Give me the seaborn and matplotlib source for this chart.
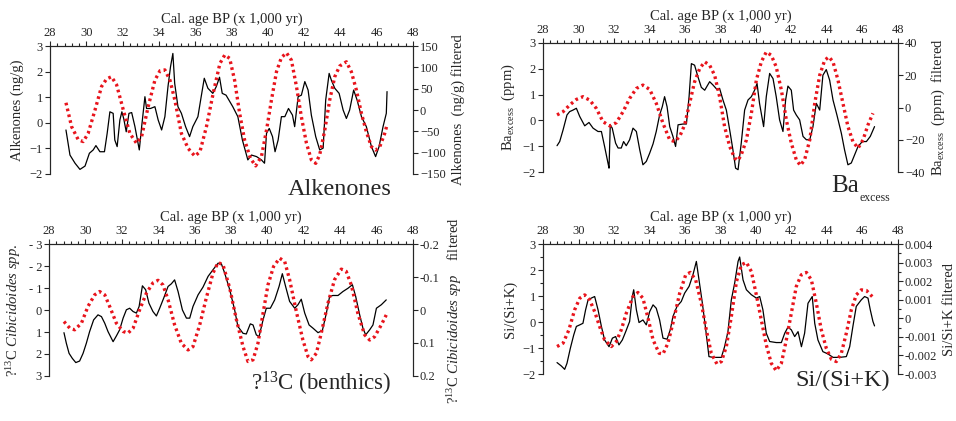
import matplotlib
matplotlib.use('Agg')
import matplotlib.pyplot as plt
import matplotlib.ticker as mticker
import seaborn as sns
import pandas as pd

# --- Alkenones ---
alk_age = [28.88, 29.1, 29.38, 29.65, 29.93, 30.17, 30.38, 30.53, 30.75, 31.0, 31.15, 31.3, 31.48, 31.57,
           31.7, 31.85, 31.96, 32.06, 32.2, 32.35, 32.5, 32.68, 32.92, 33.05, 33.23, 33.32, 33.54, 33.78,
           33.96, 34.15, 34.33, 34.5, 34.64, 34.77, 34.87, 35.05, 35.24, 35.47, 35.69, 35.87, 36.15, 36.33,
           36.5, 36.7, 36.97, 37.16, 37.34, 37.49, 37.7, 38.07, 38.35, 38.6, 38.9, 39.1, 39.38, 39.65,
           39.82, 39.93, 40.08, 40.26, 40.4, 40.57, 40.75, 40.94, 41.14, 41.36, 41.48, 41.67, 41.85, 42.04,
           42.22, 42.4, 42.64, 42.86, 43.05, 43.19, 43.38, 43.5, 43.69, 43.93, 44.15, 44.33, 44.51, 44.73,
           44.92, 45.16, 45.43, 45.71, 45.94, 46.13, 46.35, 46.53, 46.57]
alk_val = [-0.28, -1.26, -1.58, -1.82, -1.69, -1.19, -1.06, -0.89, -1.13, -1.13, -0.41, 0.43, 0.37, -0.67,
           -0.93, 0.11, 0.43, 0.17, -0.35, 0.37, 0.4, -0.15, -1.06, -0.15, 1.02, 0.56, 0.56, 0.63,
           0.11, -0.28, 0.24, 1.41, 2.19, 2.71, 1.54, 0.63, 0.37, -0.15, -0.54, -0.15, 0.24, 1.02,
           1.74, 1.35, 1.15, 1.41, 1.78, 1.15, 1.08, 0.63, 0.24, -0.67, -1.45, -1.26, -1.32, -1.45,
           -1.58, -0.41, -0.22, -0.54, -1.13, -0.67, 0.24, 0.24, 0.56, 0.3, -0.15, 1.02, 1.08, 1.61,
           1.28, 0.3, -0.54, -1.06, -0.99, 0.89, 1.93, 1.67, 1.35, 1.15, 0.5, 0.17, 0.5, 1.28,
           0.89, 0.24, -0.15, -0.93, -1.32, -0.93, -0.15, 0.37, 1.22]
alk_filt_age = [28.88, 29.19, 29.56, 29.83, 30.1, 30.48, 30.84, 31.12, 31.39, 31.67, 32.04, 32.4, 32.77,
                33.05, 33.41, 33.78, 34.06, 34.33, 34.61, 34.88, 35.24, 35.61, 35.98, 36.26, 36.62, 36.99,
                37.36, 37.63, 37.9, 38.17, 38.45, 38.72, 39.04, 39.33, 39.65, 39.93, 40.2, 40.48, 40.75,
                41.03, 41.3, 41.58, 41.85, 42.13, 42.4, 42.64, 42.86, 43.14, 43.41, 43.69, 43.96, 44.33,
                44.6, 44.88, 45.16, 45.43, 45.71, 45.94, 46.17, 46.44, 46.57]
alk_filt_val = [17, -39, -70, -74, -55, 0, 55, 73, 78, 59, 0, -55, -78,
                -62, 8, 70, 92, 94, 70, 23, -55, -90, -108, -98, -39, 39,
                109, 129, 121, 70, -8, -70, -113, -131, -109, -47, 23, 90, 123,
                134, 117, 55, -16, -78, -117, -125, -105, -47, 23, 78, 103, 113,
                90, 47, -8, -51, -86, -94, -86, -55, -35]

# --- Ba excess ---
ba_age = [28.79, 28.94, 29.13, 29.35, 29.5, 29.69, 29.88, 30.07, 30.35, 30.59, 30.82, 31.1, 31.29, 31.47,
          31.66, 31.72, 31.79, 31.9, 32.09, 32.23, 32.41, 32.54, 32.69, 32.88, 33.07, 33.26, 33.45, 33.63,
          33.82, 34.01, 34.2, 34.38, 34.57, 34.72, 34.85, 34.99, 35.14, 35.32, 35.47, 35.61, 35.89, 36.08,
          36.23, 36.36, 36.54, 36.73, 36.92, 37.11, 37.39, 37.58, 37.8, 37.95, 38.14, 38.33, 38.55, 38.7,
          38.85, 38.99, 39.17, 39.36, 39.55, 39.74, 39.92, 40.06, 40.2, 40.43, 40.58, 40.77, 40.96, 41.14,
          41.33, 41.52, 41.67, 41.8, 41.99, 42.12, 42.27, 42.46, 42.65, 42.84, 43.03, 43.21, 43.4, 43.59,
          43.77, 43.96, 44.15, 44.34, 44.56, 44.81, 44.99, 45.18, 45.37, 45.56, 45.75, 45.99, 46.22, 46.44,
          46.68]
ba_val = [-0.98, -0.82, -0.37, 0.21, 0.34, 0.4, 0.47, 0.15, -0.21, -0.08, -0.3, -0.43, -0.43, -1.01,
          -1.65, -1.85, -0.17, -0.3, -0.88, -1.07, -1.07, -0.82, -0.98, -0.75, -0.3, -0.43, -1.14, -1.72,
          -1.59, -1.27, -0.91, -0.43, 0.21, 0.53, 0.92, 0.53, -0.24, -0.62, -1.01, -0.17, -0.14, -0.14,
          0.92, 2.2, 2.14, 1.69, 1.28, 1.17, 1.5, 1.37, 1.2, 1.24, 0.79, 0.4, -0.5, -1.14,
          -1.85, -1.91, -0.88, 0.4, 0.79, 0.92, 1.17, 1.43, 0.66, -0.24, 0.92, 1.82, 1.62, 0.92,
          0.02, -0.43, 0.79, 1.33, 1.17, 0.4, 0.21, 0.02, -0.62, -0.75, -0.75, -0.24, 0.66, 0.4,
          1.75, 1.97, 1.56, 0.79, 0.21, -0.5, -1.14, -1.72, -1.65, -1.33, -1.01, -0.82, -0.82, -0.62,
          -0.24]
ba_filt_age = [28.79, 29.13, 29.5, 29.88, 30.25, 30.63, 31.0, 31.38, 31.76, 32.13, 32.51, 32.88, 33.26,
               33.63, 34.01, 34.38, 34.76, 35.14, 35.42, 35.7, 35.98, 36.26, 36.54, 36.83, 37.11, 37.39,
               37.67, 37.95, 38.23, 38.52, 38.8, 38.99, 39.17, 39.46, 39.74, 40.02, 40.3, 40.58, 40.86,
               41.14, 41.43, 41.71, 41.99, 42.27, 42.5, 42.74, 43.03, 43.31, 43.59, 43.87, 44.11, 44.34,
               44.62, 44.9, 45.18, 45.46, 45.75, 46.03, 46.31, 46.59]
ba_filt_val = [-4.6, -2.6, 1.5, 5, 6.7, 4.6, -0.5, -8.8, -11.4, -9.4, -2.6, 5.6, 11.8,
               13.9, 11.2, 2.6, -9.8, -20.1, -21.1, -18, -10.8, 2.6, 15.9, 24.2, 28.3, 26.2,
               20, 6.7, -11.8, -24.2, -31.4, -32.8, -29.3, -20.1, -3.6, 17, 28.3, 34.4, 32.4,
               25.2, 10.8, -7.7, -22.1, -32.4, -35.9, -32.4, -20.1, 2.6, 20, 29.3, 31.4, 28.3,
               17, 2.6, -11.8, -21.1, -25.2, -20.1, -10.8, -3.6]

# --- d13C benthics ---
c13_age = [28.82, 28.95, 29.1, 29.28, 29.47, 29.68, 29.87, 30.05, 30.23, 30.45, 30.69, 30.88, 31.06, 31.24,
           31.52, 31.7, 31.88, 32.07, 32.25, 32.43, 32.62, 32.8, 32.95, 33.13, 33.31, 33.49, 33.71, 33.9,
           34.08, 34.3, 34.54, 34.72, 34.9, 35.09, 35.33, 35.55, 35.73, 35.91, 36.19, 36.46, 36.74, 37.01,
           37.29, 37.47, 37.65, 37.93, 38.2, 38.38, 38.66, 38.84, 39.06, 39.21, 39.39, 39.54, 39.76, 39.94,
           40.16, 40.4, 40.64, 40.82, 41.0, 41.22, 41.5, 41.68, 41.86, 42.05, 42.29, 42.51, 42.78, 43.02,
           43.24, 43.42, 43.6, 43.88, 44.15, 44.43, 44.67, 44.85, 45.07, 45.25, 45.4, 45.62, 45.8, 45.99,
           46.26, 46.53]
c13_val = [1.03, 1.51, 1.97, 2.2, 2.39, 2.32, 1.97, 1.51, 0.98, 0.45, 0.22, 0.3, 0.6, 0.98,
           1.44, 1.18, 0.9, 0.37, -0.01, -0.08, 0.07, 0.14, -0.16, -1.1, -0.92, -0.31, 0.07, 0.27,
           -0.08, -0.54, -1.07, -1.19, -1.37, -0.84, 0.0, 0.37, 0.37, -0.16, -0.69, -1.04, -1.53, -1.83,
           -2.13, -2.1, -1.68, -0.92, 0.0, 0.75, 1.06, 1.09, 0.63, 0.68, 1.13, 1.21, 0.45, -0.08,
           -0.08, -0.46, -1.07, -1.65, -1.07, -0.39, -0.08, -0.24, -0.49, 0.14, 0.68, 0.83, 1.03, 0.93,
           0.14, -0.62, -0.66, -0.66, -0.84, -0.99, -1.15, -0.62, 0.22, 0.83, 1.13, 0.9, 0.68, -0.08,
           -0.24, -0.46]
c13_filt_age = [28.82, 29.14, 29.41, 29.78, 30.14, 30.51, 30.78, 31.06, 31.33, 31.7, 32.07, 32.34, 32.62,
                32.98, 33.35, 33.71, 33.99, 34.26, 34.54, 34.9, 35.27, 35.64, 35.91, 36.28, 36.64, 37.01,
                37.29, 37.56, 37.93, 38.3, 38.66, 38.93, 39.21, 39.48, 39.76, 40.03, 40.34, 40.67, 40.95,
                41.22, 41.59, 41.95, 42.23, 42.41, 42.69, 42.96, 43.33, 43.69, 44.06, 44.33, 44.61, 44.97,
                45.34, 45.62, 45.89, 46.26, 46.53]
c13_filt_val = [0.035, 0.055, 0.06, 0.04, -0.011, -0.046, -0.056, -0.046, -0.011, 0.04, 0.065, 0.07, 0.055,
                -0.001, -0.051, -0.082, -0.09, -0.076, -0.031, 0.045, 0.101, 0.121, 0.111, 0.045, -0.036, -0.112,
                -0.144, -0.137, -0.066, 0.03, 0.111, 0.156, 0.151, 0.101, 0.01, -0.076, -0.132, -0.157, -0.147,
                -0.092, 0.005, 0.091, 0.141, 0.151, 0.131, 0.07, -0.021, -0.092, -0.124, -0.117, -0.076, 0.01,
                0.075, 0.091, 0.081, 0.045, 0.015]

# --- Si/(Si+K) ---
si_age = [28.79, 29.03, 29.22, 29.35, 29.54, 29.73, 29.88, 30.07, 30.25, 30.4, 30.54, 30.72, 30.91, 31.1,
          31.29, 31.47, 31.72, 31.91, 32.09, 32.28, 32.47, 32.66, 32.88, 33.03, 33.11, 33.26, 33.41, 33.63,
          33.82, 34.01, 34.2, 34.38, 34.57, 34.76, 34.99, 35.17, 35.32, 35.55, 35.79, 35.98, 36.23, 36.45,
          36.64, 36.79, 36.98, 37.17, 37.35, 37.58, 37.86, 38.05, 38.23, 38.42, 38.61, 38.8, 38.99, 39.08,
          39.27, 39.46, 39.74, 40.02, 40.21, 40.39, 40.58, 40.77, 41.14, 41.43, 41.62, 41.8, 41.99, 42.18,
          42.37, 42.56, 42.74, 42.93, 43.17, 43.31, 43.49, 43.77, 44.06, 44.34, 44.71, 45.09, 45.28, 45.46,
          45.65, 45.93, 46.12, 46.31, 46.44, 46.59, 46.68]
si_val = [-1.56, -1.69, -1.82, -1.59, -1.01, -0.5, -0.17, -0.11, -0.05, 0.47, 0.85, 0.92, 0.98, 0.47,
          -0.17, -0.69, -0.95, -0.62, -0.56, -0.88, -0.69, -0.37, 0.02, 0.98, 1.24, 0.47, -0.02, 0.08,
          -0.11, 0.4, 0.66, 0.53, 0.08, -0.62, -0.66, -0.3, 0.21, 0.6, 0.79, 1.11, 1.37, 1.82,
          2.33, 1.62, 0.72, -0.3, -1.33, -1.36, -1.36, -1.36, -0.95, -0.37, 0.85, 1.5, 2.33, 2.5,
          1.62, 1.24, 1.05, 0.92, 0.98, 0.47, -0.43, -0.75, -0.79, -0.79, -0.43, -0.2, -0.3, -0.56,
          -0.37, -0.95, -0.43, 0.72, 0.98, -0.05, -0.69, -1.14, -1.23, -1.36, -1.36, -1.33, -0.95, -0.17,
          0.6, 0.85, 0.98, 0.92, 0.47, 0.02, -0.15]
si_filt_age = [28.79, 29.13, 29.46, 29.78, 30.07, 30.35, 30.63, 30.91, 31.19, 31.47, 31.85, 32.13, 32.41,
               32.69, 33.07, 33.35, 33.63, 33.92, 34.2, 34.54, 34.76, 35.04, 35.32, 35.7, 36.04, 36.3,
               36.6, 36.92, 37.2, 37.48, 37.8, 38.05, 38.33, 38.61, 38.9, 39.18, 39.46, 39.74, 40.02,
               40.3, 40.58, 40.86, 41.14, 41.43, 41.71, 41.99, 42.27, 42.55, 42.84, 43.12, 43.4, 43.68,
               43.96, 44.25, 44.53, 44.81, 45.09, 45.37, 45.65, 45.93, 46.22, 46.55]
si_filt_val = [-0.00152, -0.00134, -0.00062, 0.00045, 0.00108, 0.00126, 0.00099, 0.00036, -0.00044,
               -0.00116, -0.00152, -0.00125, -0.00062, 0.00027, 0.00117, 0.00139, 0.00108, 0.0, -0.00116,
               -0.00188, -0.00192, -0.00134, -0.00026, 0.00135, 0.00234, 0.00247, 0.00207, 0.00081,
               -0.00062, -0.00188, -0.00246, -0.00233, -0.00152, 0.00009, 0.00198, 0.00288, 0.00301,
               0.00252, 0.00126, -0.00009, -0.00143, -0.00242, -0.00282, -0.00242, -0.00116, 0.00027,
               0.00171, 0.00234, 0.00247, 0.00207, 0.00081, -0.00062, -0.00161, -0.00221, -0.00233,
               -0.00188, -0.0008, 0.00045, 0.00126, 0.00153, 0.0015, 0.00117]

# tick labels
x_ticks = [28, 30, 32, 34, 36, 38, 40, 42, 44, 46, 48]
alk_left_ticks = [-2, -1, 0, 1, 2, 3]
alk_right_ticks = [-150, -100, -50, 0, 50, 100, 150]
ba_left_ticks = [-2, -1, 0, 1, 2, 3]
ba_right_ticks = [-40, -20, 0, 20, 40]
c13_left_ticks = [-3, -2, -1, 0, 1, 2, 3]
c13_left_labels = ['- 3', '- 2', '- 1', '0', '1', '2', '3']
c13_right_ticks = [-0.2, -0.1, 0, 0.1, 0.2]
c13_right_labels = ['-0.2', '-0.1', '0', '0.1', '0.2']
si_left_ticks = [-2, -1, 0, 1, 2, 3]
si_right_ticks = [-0.003, -0.002, -0.001, 0, 0.001, 0.002, 0.003, 0.004]
si_right_labels = ['-0.003', '-0.002', '-0.001', '0', '0.001', '0.002', '0.003', '0.004']

sns.set_style('ticks')
plt.rcParams['font.family'] = ['Liberation Serif', 'DejaVu Serif']
plt.rcParams['mathtext.fontset'] = 'custom'
plt.rcParams['mathtext.rm'] = 'Liberation Serif'
plt.rcParams['mathtext.it'] = 'Liberation Serif:italic'
plt.rcParams['font.size'] = 10

RED = '#e8141c'
fig = plt.figure(figsize=(9.56, 4.21), dpi=100)

boxes = {
    'alk': [0.0523, 0.5867, 0.3797, 0.3040],
    'ba': [0.5680, 0.5914, 0.3713, 0.3065],
    'c13': [0.0513, 0.1069, 0.3807, 0.3135],
    'si': [0.5680, 0.1116, 0.3713, 0.3088],
}


def make_panel(key, age, val, fage, fval, lticks, rticks, llim, rlim, llab, rlab, invert=False):
    ax = fig.add_axes(boxes[key])
    ax2 = ax.twinx()
    sns.lineplot(data=pd.DataFrame({'age': age, 'v': val}), x='age', y='v', ax=ax,
                 color='black', linewidth=0.9, sort=False, estimator=None)
    sns.lineplot(data=pd.DataFrame({'age': fage, 'v': fval}), x='age', y='v', ax=ax2,
                 color=RED, linewidth=2.4, linestyle=(0, (0.8, 1.0)), sort=False, estimator=None)
    ax.set_xlim(28, 48)
    ax.set_ylim(*llim)
    ax2.set_ylim(*rlim)
    if invert:
        ax.invert_yaxis()
        ax2.invert_yaxis()
    # top x axis
    ax.xaxis.tick_top()
    ax.xaxis.set_label_position('top')
    ax.set_xticks(x_ticks)
    ax.xaxis.set_minor_locator(mticker.MultipleLocator(0.4))
    ax.set_xlabel('Cal. age BP (x 1,000 yr)', fontsize=10.5, labelpad=3)
    ax.set_yticks(lticks)
    ax2.set_yticks(rticks)
    ax.set_ylabel(llab, fontsize=10.5)
    ax2.set_ylabel(rlab, fontsize=10.5)
    for a in (ax, ax2):
        a.spines['bottom'].set_visible(False)
        for s in ('top', 'left', 'right'):
            a.spines[s].set_linewidth(0.8)
        a.tick_params(which='major', length=3.5, width=0.8, labelsize=9, pad=1.5)
        a.tick_params(which='minor', length=2, width=0.8)
    ax.tick_params(axis='x', which='both', top=True, bottom=False, labeltop=True, labelbottom=False)
    return ax, ax2


ax, ax2 = make_panel('alk', alk_age, alk_val, alk_filt_age, alk_filt_val,
                     alk_left_ticks, alk_right_ticks, (-2, 3), (-150, 150),
                     'Alkenones (ng/g)', 'Alkenones  (ng/g) filtered')
ax.text(0.655, -0.12, 'Alkenones', transform=ax.transAxes, fontsize=17.5, va='center', ha='left',
        clip_on=False)

ax, ax2 = make_panel('ba', ba_age, ba_val, ba_filt_age, ba_filt_val,
                     ba_left_ticks, ba_right_ticks, (-2, 3), (-40, 40),
                     r'Ba$_{\rm excess}$  (ppm)', r'Ba$_{\rm excess}$  (ppm)  filtered')
# big "Ba" with a small "excess" subscript
ax.text(0.812, -0.11, 'Ba', transform=ax.transAxes, fontsize=18, va='center', ha='left', clip_on=False)
ax.text(0.893, -0.205, 'excess', transform=ax.transAxes, fontsize=8.5, va='center', ha='left',
        clip_on=False)

ax, ax2 = make_panel('c13', c13_age, c13_val, c13_filt_age, c13_filt_val,
                     c13_left_ticks, c13_right_ticks, (-3, 3), (-0.2, 0.2),
                     r'?$^{13}$C $\mathit{Cibicidoides\ spp.}$',
                     r'?$^{13}$C $\mathit{Cibicidoides\ spp}$    filtered', invert=True)
ax.set_yticklabels(c13_left_labels)
ax2.set_yticklabels(c13_right_labels)
ax.text(0.555, -0.06, r'?$^{13}$C (benthics)', transform=ax.transAxes, fontsize=16.5, va='center',
        ha='left', clip_on=False)

ax, ax2 = make_panel('si', si_age, si_val, si_filt_age, si_filt_val,
                     si_left_ticks, si_right_ticks, (-2, 3), (-0.003, 0.004),
                     'Si/(Si+K)', 'Si/Si+K filtered')
ax2.set_yticklabels(si_right_labels)
ax.yaxis.set_minor_locator(mticker.MultipleLocator(0.5))
ax2.yaxis.set_minor_locator(mticker.MultipleLocator(0.0005))
ax.text(0.71, -0.05, 'Si/(Si+K)', transform=ax.transAxes, fontsize=17.5, va='center', ha='left',
        clip_on=False)

fig.savefig('out.png', dpi=100)
